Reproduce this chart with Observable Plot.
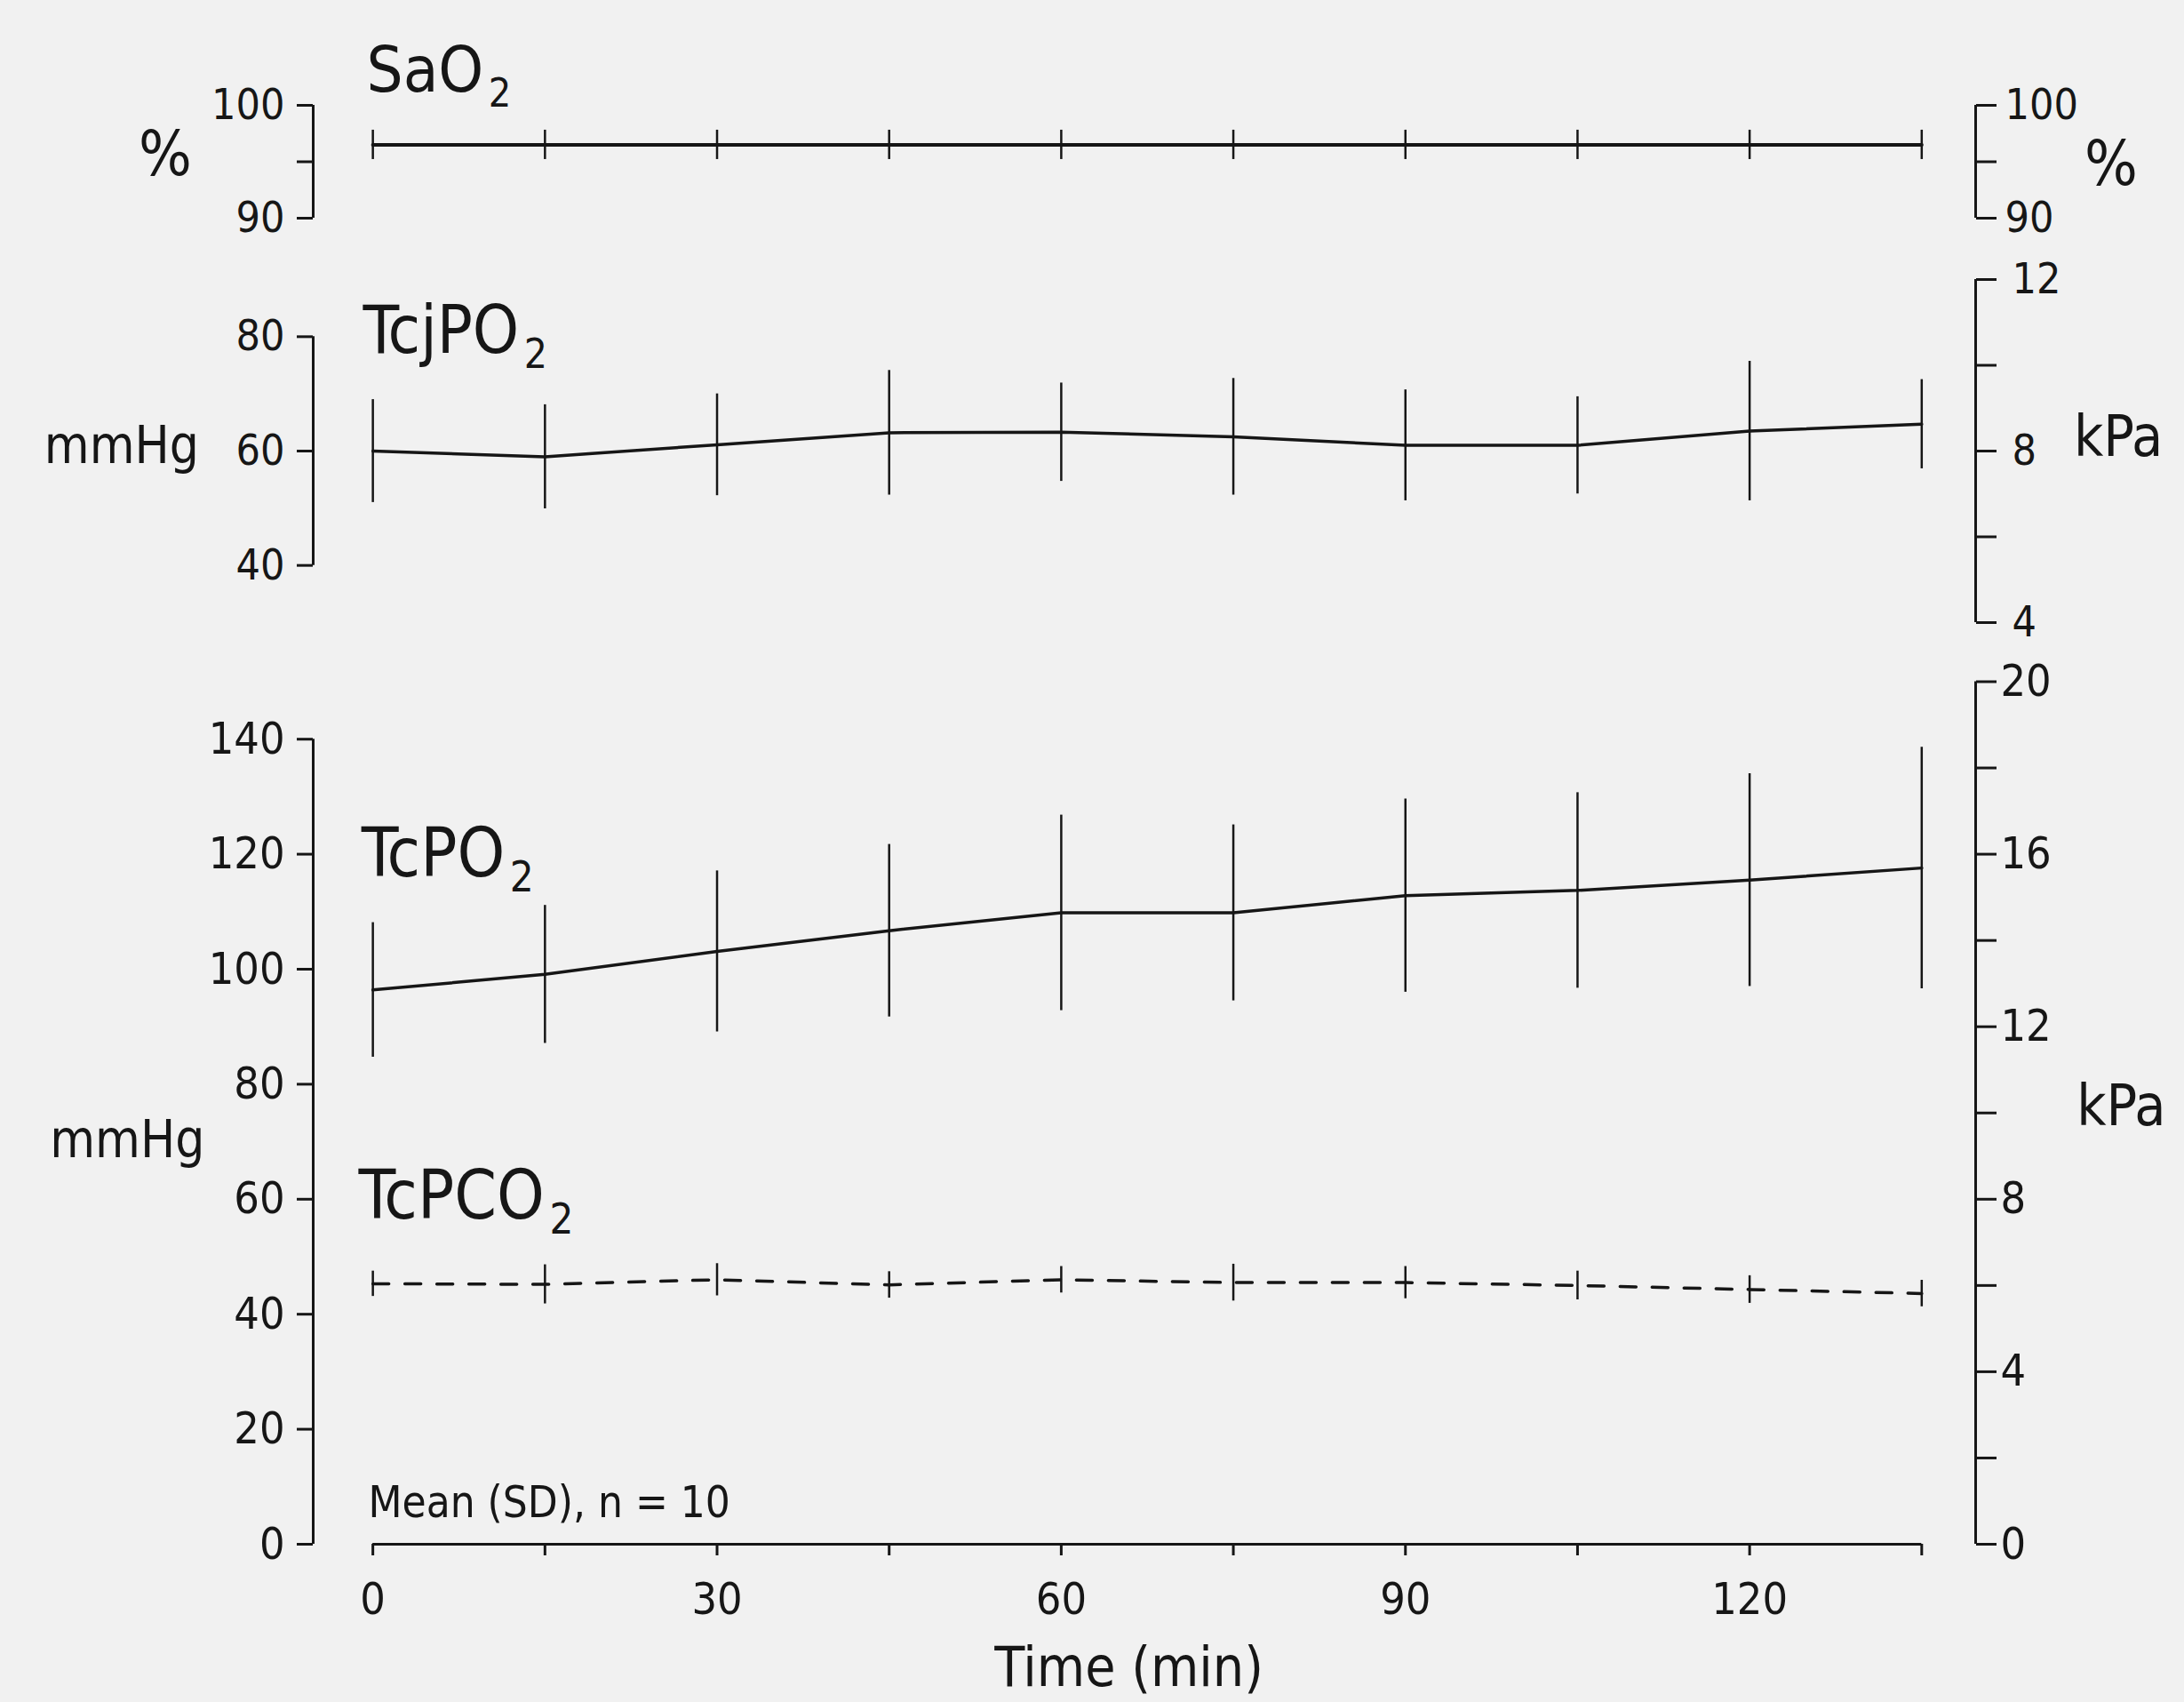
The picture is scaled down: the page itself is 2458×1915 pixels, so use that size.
<!DOCTYPE html>
<html>
<head>
<meta charset="utf-8">
<script src="https://cdn.jsdelivr.net/npm/d3@7"></script>
<script src="https://cdn.jsdelivr.net/npm/@observablehq/plot@0.6"></script>
<style>
  html, body { margin: 0; padding: 0; background: #f1f1f1; }
  #chart { position: relative; width: 2458px; height: 1915px; background: #f1f1f1; overflow: hidden; }
  #chart svg { position: absolute; left: 0; overflow: visible; }
</style>
</head>
<body>
<div id="chart"></div>
<script>
// ---------------- data ----------------
const time = [0, 15, 30, 45, 60, 75, 90, 105, 120, 135];
const timeLabels = [0, 30, 60, 90, 120];

const sao2Mean = [96.5, 96.5, 96.5, 96.5, 96.5, 96.5, 96.5, 96.5, 96.5, 96.5];
const sao2SD   = [1.3, 1.3, 1.3, 1.3, 1.3, 1.3, 1.3, 1.3, 1.3, 1.3];

const tcjpo2Mean = [60.0, 59.0, 61.1, 63.2, 63.3, 62.5, 61.0, 61.0, 63.5, 64.7];
const tcjpo2SD   = [9.0, 9.1, 8.9, 10.9, 8.6, 10.2, 9.7, 8.5, 12.2, 7.8];

const tcpo2Mean = [96.4, 99.1, 103.1, 106.7, 109.8, 109.8, 112.8, 113.7, 115.5, 117.6];
const tcpo2SD   = [11.7, 12.0, 14.0, 15.0, 17.0, 15.3, 16.8, 17.0, 18.5, 21.0];

const tcpco2Mean = [45.3, 45.2, 46.0, 45.1, 46.0, 45.5, 45.5, 45.0, 44.3, 43.6];
const tcpco2SD   = [2.2, 3.4, 2.8, 2.3, 2.3, 3.2, 2.8, 2.5, 2.4, 2.3];

// axis ticks and labels
const saoTicks = [90, 95, 100];
const saoLabels = [90, 100];
const tcjLeftTicks = [40, 60, 80];
const tcjRightTicksKPa = [4, 6, 8, 10, 12];
const tcjRightLabelsKPa = [4, 8, 12];
const tcLeftTicks = [0, 20, 40, 60, 80, 100, 120, 140];
const tcRightTicksKPa = [0, 2, 4, 6, 8, 10, 12, 14, 16, 18, 20];
const tcRightLabelsKPa = [0, 4, 8, 12, 16, 20];
const MMHG_PER_KPA = 7.5;

// ---------------- styling / layout ----------------
const W = 2458;
const ink = "#161616";
const font = '"DejaVu Sans Condensed", "Liberation Sans Narrow", "DejaVu Sans", sans-serif';
const xDomain = [-5.2, 139.7];       // left / right y-axes sit at the frame edges
const xL = xDomain[0], xR = xDomain[1];

const rows = (m, s) => time.map((t, i) => ({t, m: m[i], lo: m[i] - s[i], hi: m[i] + s[i]}));

function spanLine(x, y1, y2) {
  return Plot.ruleX([{x, y1, y2}], {x: "x", y1: "y1", y2: "y2", stroke: ink, strokeWidth: 3});
}
function labels(list, opts) {
  return Plot.text(list, {x: "x", y: "y", text: "label", fill: ink, ...opts});
}

function panel({top, height, yDomain, marginTop, marginBottom, xAxisOff, marks}) {
  const svg = Plot.plot({
    width: W, height,
    marginLeft: 352, marginRight: W - 2223, marginTop, marginBottom,
    x: xAxisOff ? {domain: xDomain, axis: null} : {domain: xDomain},
    y: {domain: yDomain},
    style: {background: "transparent", fontFamily: font, color: ink, overflow: "visible"},
    marks
  });
  svg.style.top = top + "px";
  // lowered subscript "2"
  const ns = "http://www.w3.org/2000/svg";
  svg.querySelectorAll("text").forEach(t => {
    if (t.childElementCount === 0 && t.textContent.includes("\u2082")) {
      const [a, b] = t.textContent.split("\u2082");
      t.textContent = "";
      const s1 = document.createElementNS(ns, "tspan"); s1.textContent = a; t.appendChild(s1);
      const s2 = document.createElementNS(ns, "tspan"); s2.textContent = "2";
      s2.setAttribute("font-size", "0.62em"); s2.setAttribute("dy", "0.36em"); s2.setAttribute("dx", "0.12em");
      t.appendChild(s2);
    }
  });
  return svg;
}

const chart = document.getElementById("chart");

// ---------------- panel A : SaO2 ----------------
const sao2 = rows(sao2Mean, sao2SD);
chart.appendChild(panel({
  top: 0, height: 300, yDomain: [90, 100], marginTop: 118, marginBottom: 55, xAxisOff: true,
  marks: [
    spanLine(xL, 90, 100),
    spanLine(xR, 90, 100),
    Plot.axisY({anchor: "left", ticks: saoTicks, tickSize: 18, tickPadding: 14, strokeWidth: 3, fontSize: 48,
      tickFormat: d => saoLabels.includes(d) ? String(d) : "", label: null}),
    Plot.axisY({anchor: "right", ticks: saoTicks, tickSize: 23, tickPadding: 10, strokeWidth: 3, fontSize: 48,
      tickFormat: d => saoLabels.includes(d) ? String(d) : "", label: null}),
    Plot.ruleX(sao2, {x: "t", y1: "lo", y2: "hi", stroke: ink, strokeWidth: 2.5}),
    Plot.line(sao2, {x: "t", y: "m", stroke: ink, strokeWidth: 4}),
    labels([{x: -0.55, y: 103.0, label: "SaO\u2082"}], {textAnchor: "start", fontSize: 72}),
    labels([{x: -18.1, y: 95.6, label: "%"}, {x: 151.5, y: 94.7, label: "%"}], {textAnchor: "middle", fontSize: 70})
  ]
}));

// ---------------- panel B : TcjPO2 ----------------
const tcj = rows(tcjpo2Mean, tcjpo2SD);
chart.appendChild(panel({
  top: 290, height: 440, yDomain: [30, 90], marginTop: 24, marginBottom: 30, xAxisOff: true,
  marks: [
    spanLine(xL, tcjLeftTicks[0], tcjLeftTicks[tcjLeftTicks.length - 1]),
    spanLine(xR, tcjRightTicksKPa[0] * MMHG_PER_KPA, tcjRightTicksKPa[tcjRightTicksKPa.length - 1] * MMHG_PER_KPA),
    Plot.axisY({anchor: "left", ticks: tcjLeftTicks, tickSize: 18, tickPadding: 14, strokeWidth: 3, fontSize: 48, label: null}),
    Plot.axisY({anchor: "right", ticks: tcjRightTicksKPa.map(k => k * MMHG_PER_KPA), tickSize: 23, tickPadding: 18,
      strokeWidth: 3, fontSize: 48, label: null,
      tickFormat: d => tcjRightLabelsKPa.includes(Math.round(d / MMHG_PER_KPA)) ? String(Math.round(d / MMHG_PER_KPA)) : ""}),
    Plot.ruleX(tcj, {x: "t", y1: "lo", y2: "hi", stroke: ink, strokeWidth: 2.5}),
    Plot.line(tcj, {x: "t", y: "m", stroke: ink, strokeWidth: 3.5}),
    labels([{x: -0.86, y: 80.8, label: "TcjPO\u2082"}], {textAnchor: "start", fontSize: 74}),
    labels([{x: -21.9, y: 60.8, label: "mmHg"}], {textAnchor: "middle", fontSize: 58}),
    labels([{x: 148.25, y: 62.4, label: "kPa"}], {textAnchor: "start", fontSize: 64})
  ]
}));

// ---------------- panel C : TcPO2 / TcPCO2 ----------------
const tcp = rows(tcpo2Mean, tcpo2SD);
const tcc = rows(tcpco2Mean, tcpco2SD);
chart.appendChild(panel({
  top: 740, height: 1175, yDomain: [0, 150], marginTop: 26.5, marginBottom: 178, xAxisOff: false,
  marks: [
    spanLine(xL, tcLeftTicks[0], tcLeftTicks[tcLeftTicks.length - 1]),
    spanLine(xR, tcRightTicksKPa[0] * MMHG_PER_KPA, tcRightTicksKPa[tcRightTicksKPa.length - 1] * MMHG_PER_KPA),
    Plot.axisY({anchor: "left", ticks: tcLeftTicks, tickSize: 18, tickPadding: 14, strokeWidth: 3, fontSize: 50, label: null}),
    Plot.axisY({anchor: "right", ticks: tcRightTicksKPa.map(k => k * MMHG_PER_KPA), tickSize: 23, tickPadding: 5,
      strokeWidth: 3, fontSize: 50, label: null,
      tickFormat: d => tcRightLabelsKPa.includes(Math.round(d / MMHG_PER_KPA)) ? String(Math.round(d / MMHG_PER_KPA)) : ""}),
    Plot.ruleY([{y: 0, x1: time[0], x2: time[time.length - 1]}], {y: "y", x1: "x1", x2: "x2", stroke: ink, strokeWidth: 3}),
    Plot.axisX({anchor: "bottom", ticks: time, tickSize: 13, tickPadding: 30, strokeWidth: 3, fontSize: 50, label: null,
      tickFormat: d => timeLabels.includes(d) ? String(d) : ""}),
    Plot.ruleX(tcp, {x: "t", y1: "lo", y2: "hi", stroke: ink, strokeWidth: 2.5}),
    Plot.line(tcp, {x: "t", y: "m", stroke: ink, strokeWidth: 3.5}),
    Plot.ruleX(tcc, {x: "t", y1: "lo", y2: "hi", stroke: ink, strokeWidth: 2.5}),
    Plot.line(tcc, {x: "t", y: "m", stroke: ink, strokeWidth: 3.5, strokeDasharray: "18,18"}),
    labels([{x: -1.0, y: 119.9, label: "TcPO\u2082"}, {x: -1.25, y: 60.4, label: "TcPCO\u2082"}], {textAnchor: "start", fontSize: 76}),
    labels([{x: -21.4, y: 70.2, label: "mmHg"}], {textAnchor: "middle", fontSize: 58}),
    labels([{x: 148.5, y: 76.0, label: "kPa"}], {textAnchor: "start", fontSize: 64}),
    labels([{x: -0.4, y: 7.1, label: "Mean (SD), n = 10"}], {textAnchor: "start", fontSize: 49}),
    labels([{x: 65.9, y: -21.6, label: "Time (min)"}], {textAnchor: "middle", fontSize: 62})
  ]
}));
</script>
</body>
</html>
